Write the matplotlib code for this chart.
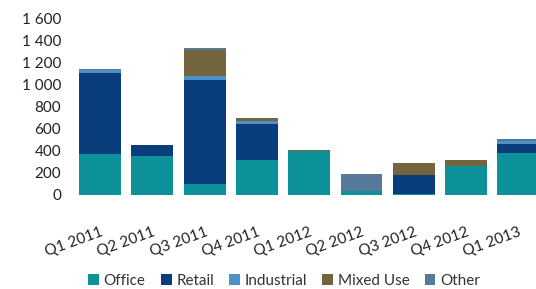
import matplotlib
matplotlib.use("Agg")
import matplotlib.pyplot as plt
import numpy as np

categories = ["Q1 2011", "Q2 2011", "Q3 2011", "Q4 2011", "Q1 2012",
              "Q2 2012", "Q3 2012", "Q4 2012", "Q1 2013"]
office     = [370, 355, 100, 320, 395, 40, 5, 265, 380]
retail     = [735, 100, 940, 325, 0, 0, 180, 0, 85]
industrial = [25, 0, 35, 20, 0, 0, 0, 0, 25]
mixed_use  = [0, 0, 240, 35, 15, 0, 105, 55, 0]
other      = [10, 0, 15, 0, 0, 150, 0, 0, 15]
y_ticks = [0, 200, 400, 600, 800, 1000, 1200, 1400, 1600]

series = [("Office", office, "#0E9299"),
          ("Retail", retail, "#0A3D7C"),
          ("Industrial", industrial, "#4E91C6"),
          ("Mixed Use", mixed_use, "#74653E"),
          ("Other", other, "#577A9B")]

plt.rcParams['font.family'] = ['Lato', 'DejaVu Sans']

fig = plt.figure(figsize=(5.36, 2.89), dpi=100)
ax = fig.add_axes([68/536, (289-195)/289, 1 - 68/536, 177/289])

x = np.arange(len(categories))
bottom = np.zeros(len(categories))
for name, vals, col in series:
    v = np.array(vals, dtype=float)
    ax.bar(x, v, width=0.80, bottom=bottom, color=col, label=name)
    bottom += v

ax.set_xlim((68-100)/52.3, (536-100)/52.3)
ax.set_ylim(0, 1600)
ax.set_yticks(y_ticks)
ax.set_yticklabels([f"{t:,}".replace(",", " ") for t in y_ticks], fontsize=11, color="#222222")
ax.set_xticks(x)
ax.set_xticklabels(categories, rotation=20, ha="right", rotation_mode="anchor",
                   fontsize=11, color="#222222")
ax.tick_params(axis="both", length=0)
ax.tick_params(axis="y", pad=5)
ax.tick_params(axis="x", pad=22)
for s in ax.spines.values():
    s.set_visible(False)

fig.legend(loc="center", bbox_to_anchor=(0.53, 8/289), ncol=5, frameon=False,
           fontsize=11, handlelength=0.7, handleheight=0.7, handletextpad=0.3,
           columnspacing=1.0, labelcolor="#333333")

fig.savefig("out.png", dpi=100)
